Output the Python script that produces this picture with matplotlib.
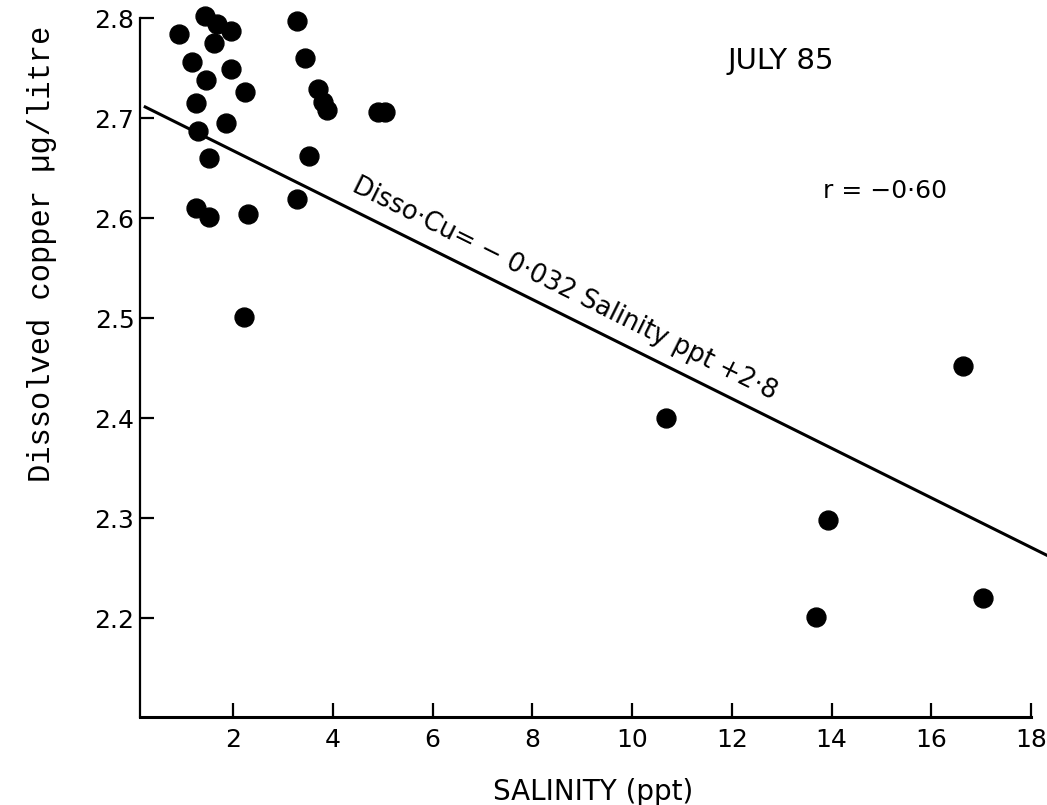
import numpy as np
import matplotlib.pyplot as plt

# salinity (ppt) and dissolved copper (ug/litre)
salinity = [0.92, 1.44, 1.67, 1.95, 1.62, 3.28, 1.17, 1.96, 1.45, 3.44,
            2.25, 3.71, 3.80, 3.88, 4.90, 5.05, 1.25, 1.86, 1.29, 1.51,
            3.52, 3.28, 1.26, 1.51, 2.31, 2.23, 16.64, 10.69, 13.92, 17.04,
            13.68]
copper = [2.784, 2.802, 2.794, 2.787, 2.775, 2.797, 2.756, 2.749, 2.738, 2.760,
          2.726, 2.729, 2.716, 2.708, 2.706, 2.706, 2.715, 2.695, 2.687, 2.660,
          2.662, 2.619, 2.610, 2.601, 2.604, 2.501, 2.452, 2.400, 2.298, 2.220,
          2.201]

# regression line as drawn on the figure
line_x = [0.24, 18.4]
intercept = 2.717
slope = -0.0248

x_ticks = [2, 4, 6, 8, 10, 12, 14, 16, 18]
y_ticks = [2.2, 2.3, 2.4, 2.5, 2.6, 2.7, 2.8]
y_ticklabels = ['2.2', '2.3', '2.4', '2.5', '2.6', '2.7', '2.8']

fig = plt.figure(figsize=(10.47, 8.05), dpi=100)
ax = fig.add_axes([0.1337, 0.1093, 0.8663, 0.8907])

ax.scatter(salinity, copper, s=185, color='black', zorder=3)

lx = np.array(line_x)
ax.plot(lx, intercept + slope * lx, color='black', linewidth=2.2)

ax.set_xlim(0.135, 18.32)
ax.set_ylim(2.101, 2.818)

for side in ['top', 'right']:
    ax.spines[side].set_visible(False)
ax.spines['left'].set_linewidth(1.6)
ax.spines['bottom'].set_linewidth(2.2)
ax.spines['left'].set_bounds(2.101, 2.8)
ax.spines['bottom'].set_bounds(0.135, 18.0)

ax.set_xticks(x_ticks)
ax.set_xticklabels([str(t) for t in x_ticks])
ax.set_yticks(y_ticks)
ax.set_yticklabels(y_ticklabels)
ax.tick_params(axis='both', direction='in', length=10, width=1.6, color='black')
ax.tick_params(axis='x', pad=8, labelsize=18)
ax.tick_params(axis='y', pad=4, labelsize=18)

ax.set_xlabel('SALINITY (ppt)', fontsize=20)
ax.xaxis.set_label_coords(0.5, -0.085)
ax.set_ylabel('Dissolved copper \u00b5g/litre', fontsize=22,
              family='Liberation Mono')
ax.yaxis.set_label_coords(-0.092, 0.646)

ax.text(0.648, 0.904, 'JULY 85', transform=ax.transAxes, fontsize=21,
        va='baseline')
ax.text(0.753, 0.724, 'r = \u22120\u00b760', transform=ax.transAxes,
        fontsize=18, va='baseline')
ax.text(4.35, 2.627, 'Disso\u00b7Cu= \u2212 0\u00b7032 Salinity ppt +2\u00b78',
        fontsize=18.5, rotation=-26.4, rotation_mode='anchor',
        ha='left', va='baseline')

fig.savefig('out.png', dpi=100)
